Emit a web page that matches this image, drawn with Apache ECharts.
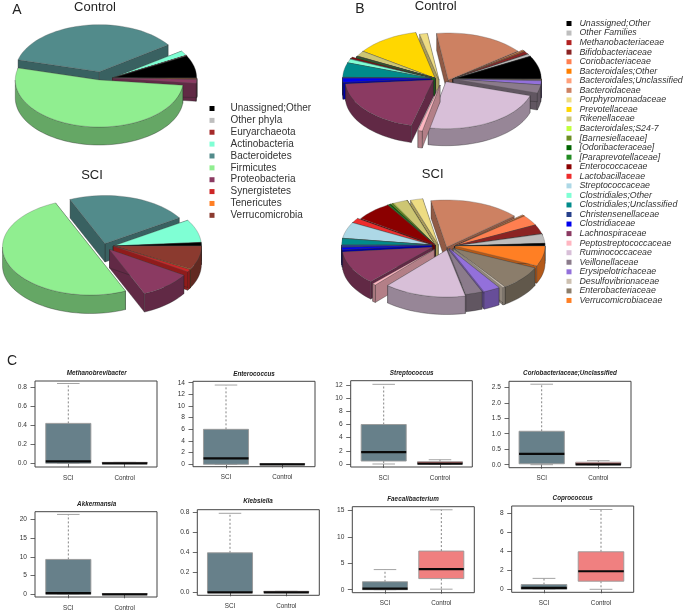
<!DOCTYPE html>
<html><head><meta charset="utf-8">
<style>html,body{margin:0;padding:0;background:#fff}#c{width:685px;height:612px}</style>
<script src="https://cdn.jsdelivr.net/npm/echarts@6/dist/echarts.min.js"></script>
</head><body><div id="c"></div>
<script>
// ---------- data ----------
const phylaNames = ['Unassigned;Other','Other phyla','Euryarchaeota','Actinobacteria','Bacteroidetes','Firmicutes','Proteobacteria','Synergistetes','Tenericutes','Verrucomicrobia'];
const phylaControl = [7.8,0.1,0.1,1.7,36.2,52.3,1.3,0,0.2,0.3];
const phylaSCI = [1.2,0,0,7.8,22.5,50,9.5,0.8,0.2,8.0];
const familyNames = ['Unassigned;Other','Other Families','Methanobacteriaceae','Bifidobacteriaceae','Coriobacteriaceae','Bacteroidales;Other','Bacteroidales;Unclassified','Bacteroidaceae','Porphyromonadaceae','Prevotellaceae','Rikenellaceae','Bacteroidales;S24-7','[Barnesiellaceae]','[Odoribacteraceae]','[Paraprevotellaceae]','Enterococcaceae','Lactobacillaceae','Streptococcaceae','Clostridiales;Other','Clostridiales;Unclassified','Christensenellaceae','Clostridiaceae','Lachnospiraceae','Peptostreptococcaceae','Ruminococcaceae','Veillonellaceae','Erysipelotrichaceae','Desulfovibrionaceae','Enterobacteriaceae','Verrucomicrobiaceae'];
const familyControl = [8.0,0.8,0.1,0.9,0.2,0.2,0.3,16.5,1.4,11.7,1.9,0.1,0.1,0.1,0.1,0.55,0.1,0.1,1.3,5.0,0.3,1.4,19.5,0.8,23.3,2.8,1.4,0.2,0.2,0.2];
const familySCI = [0.9,3.2,0.1,3.2,3.6,0.2,0.3,16.3,2.2,0.05,2.6,0.2,0.4,0.3,0.3,6.6,1.7,5.6,0.1,2.2,0.8,0.8,11.4,0.6,14.7,3.0,3.0,0.4,8.4,6.9];
const panelNames = ['Methanobrevibacter','Enterococcus','Streptococcus','Coriobacteriaceae;Unclassified','Akkermansia','Klebsiella','Faecalibacterium','Coprococcus'];
const groupLabels = ['SCI','Control'];
// [min, Q1, median, Q3, max] for SCI and Control
const boxStats = [
 [[0,0,0.02,0.42,0.84],[0,0,0,0.01,0.01]],
 [[0,0,1,6,13.6],[0,0,0,0.1,0.1]],
 [[0,0.45,1.8,6,12.1],[0,0,0.05,0.35,0.65]],
 [[0,0.03,0.35,1.08,2.6],[0,0,0.01,0.08,0.13]],
 [[0,0,0.3,9.3,21.3],[0,0,0,0.2,0.2]],
 [[0,0,0,0.395,0.79],[0,0,0,0.01,0.01]],
 [[0,0,0.2,1.5,3.8],[0.1,2.1,3.9,7.3,15.1]],
 [[0,0,0.15,0.5,1.15],[0,0.85,1.9,3.95,8.4]]
];
const yTicks = [
 [0,0.2,0.4,0.6,0.8],[0,2,4,6,8,10,12,14],[0,2,4,6,8,10,12],[0,0.5,1,1.5,2,2.5],
 [0,5,10,15,20],[0,0.2,0.4,0.6,0.8],[0,5,10,15],[0,2,4,6,8]
];
const yDecimals = [1,0,0,1,0,1,0,0];

// ---------- styles ----------
const phylaColors = ['#000000','#BEBEBE','#A52A2A','#7FFFD4','#528B8B','#90EE90','#8B3A62','#CD2626','#FF7F24','#8B3A2F'];
const familyColors = ['#000000','#BEBEBE','#B22222','#8B2323','#FF7F50','#FF7F00','#FFA07A','#CD8162','#EEDC82','#FFD700','#CDC673','#C0FF3E','#6B8E23','#006400','#228B22','#8B0000','#EE2C2C','#ADD8E6','#7FFFD4','#008B8B','#27408B','#0000EE','#8B3A62','#FFB6C1','#D8BFD8','#8B7B8B','#9370DB','#CDC0B0','#8B7D6B','#FF7F24'];

// ---------- layout ----------
const a1 = {f:[99.3,80], b:[99.3,71.7], r:[112.7,78]};
const a2 = {f:[90.5,247], b:[105,243.5], r:[113.4,246], p:[109.5,249.5]};
const b1 = {r:[453.3,79], c:[448.3,80], o:[439,80], v:[435,78.3], t:[430.7,78.3], l:[433.3,80], q:[440,85], u:[446,81.7]};
const b2 = {r:[455,246], c:[446.7,247], o:[438.3,245], v:[435,245], t:[431.7,245], l:[432.3,247.3], q:[434.3,249.5], u:[446.7,250], w:[447.3,248.3], e:[449.3,248.3], d:[453.3,248.3]};
const pies = [
 {values:phylaControl, colors:phylaColors, rx:84, ry:47, depth:18,
  apex:[a1.r,a1.r,a1.r,a1.r,a1.b,a1.f,a1.r,a1.r,a1.r,a1.r]},
 {values:phylaSCI, colors:phylaColors, rx:88, ry:48, depth:18.5,
  apex:[a2.r,a2.r,a2.r,a2.r,a2.b,a2.f,a2.p,a2.r,a2.r,a2.r]},
 {values:familyControl, colors:familyColors, rx:88, ry:47, depth:17,
  apex:[b1.r,b1.r,b1.r,b1.r,b1.r,b1.r,b1.r,b1.c,b1.o,b1.v,b1.v,b1.v,b1.v,b1.v,b1.v,b1.t,b1.t,b1.t,b1.t,b1.t,b1.t,b1.t,b1.l,b1.q,b1.u,b1.r,b1.r,b1.r,b1.r,b1.r]},
 {values:familySCI, colors:familyColors, rx:90, ry:47, depth:17.5,
  apex:[b2.r,b2.r,b2.r,b2.r,b2.r,b2.r,b2.r,b2.c,b2.o,b2.v,b2.v,b2.v,b2.v,b2.v,b2.v,b2.v,b2.t,b2.t,b2.t,b2.t,b2.t,b2.t,b2.l,b2.q,b2.u,b2.w,b2.e,b2.d,b2.d,b2.r]}
];
// frame left,right,top,bottom; y pixel of 0; y pixel of top tick; x pixel of both groups
const panels = [
 {L:35,R:157,T:381,B:467,y0:463.3,yt:387.3,c1:68.3,c2:124.7,tx:96.7,ty:370},
 {L:193,R:315,T:381.3,B:466.7,y0:464.3,yt:382.7,c1:226,c2:282.3,tx:254,ty:371},
 {L:350.7,R:472.3,T:380.7,B:467,y0:464,yt:385,c1:383.7,c2:440,tx:411.7,ty:370},
 {L:509,R:631,T:381.3,B:467.7,y0:464.7,yt:387.3,c1:541.7,c2:598.3,tx:570,ty:370.5},
 {L:35,R:157,T:511.7,B:597,y0:594.3,yt:519.3,c1:68.3,c2:124.7,tx:96.7,ty:501},
 {L:197.3,R:319.3,T:509.7,B:595.3,y0:592.3,yt:512.3,c1:230,c2:286.3,tx:258,ty:498.5},
 {L:352.3,R:474.3,T:506.7,B:592.7,y0:589.7,yt:510.3,c1:385,c2:441.3,tx:413,ty:496},
 {L:511.7,R:633.7,T:506,B:592.3,y0:589.3,yt:513.3,c1:544,c2:601,tx:572.7,ty:495.5}
];
const FONT = '"Liberation Sans", Arial, sans-serif';

// ---------- pie helpers ----------
function shade(hex, k){
  const n = parseInt(hex.slice(1),16);
  return 'rgb('+[n>>16,(n>>8)&255,n&255].map(c=>Math.round(c*k)).join(',')+')';
}
function pieSeries(pie){
  const total = pie.values.reduce((s,v)=>s+v,0);
  let acc = 0;
  const slices = pie.values.map((v,i)=>{
    const a0 = acc/total*360; acc += v; const a1 = acc/total*360;
    return {i,v,a0,a1,mid:(a0+a1)/2};
  }).filter(s=>s.v>0);
  // painted from the back of the pie to the front
  slices.sort((p,q)=>Math.sin(q.mid*Math.PI/180)-Math.sin(p.mid*Math.PI/180));
  const pt = (ap,deg,dz)=>[ap[0]+pie.rx*Math.cos(deg*Math.PI/180), ap[1]-pie.ry*Math.sin(deg*Math.PI/180)+dz];
  const arc = (ap,a,b,dz)=>{const out=[];const n=Math.max(2,Math.ceil((b-a)/3));for(let k=0;k<=n;k++)out.push(pt(ap,a+(b-a)*k/n,dz));return out;};
  return {
    type:'custom', coordinateSystem:'none', silent:true, animation:false,
    data: slices.map(s=>[s.v,s.i]),
    renderItem(params){
      const s = slices[params.dataIndex];
      const ap = pie.apex[s.i], col = pie.colors[s.i], dark = shade(col,0.7), d = pie.depth;
      const kids = [];
      const side = {fill:dark, stroke:'#222', lineWidth:0.35};
      [s.a0,s.a1].forEach(a=>{
        kids.push({type:'polygon',shape:{points:[ap,pt(ap,a,0),pt(ap,a,d),[ap[0],ap[1]+d]]},style:side});
      });
      const lo = Math.max(s.a0,180), hi = Math.min(s.a1,360);
      if(hi>lo){
        const top = arc(ap,lo,hi,0), bot = arc(ap,lo,hi,d).reverse();
        kids.push({type:'polygon',shape:{points:top.concat(bot)},style:side});
      }
      kids.push({type:'polygon',shape:{points:[ap].concat(arc(ap,s.a0,s.a1,0))},
        style:{fill:col,stroke:'#555',lineWidth:0.3}});
      return {type:'group',children:kids};
    }
  };
}
function legendProvider(names,colors){
  return {type:'pie',radius:[0,0],center:[-50,-50],silent:true,animation:false,label:{show:false},labelLine:{show:false},
    data:names.map((n,i)=>({name:n,value:1,itemStyle:{color:colors[i]}}))};
}

// ---------- box plots ----------
function boxSeries(k){
  return {
    type:'custom', xAxisIndex:k, yAxisIndex:k, silent:true, animation:false,
    data: boxStats[k].map((b,i)=>[i+1].concat(b)),
    encode:{x:0,y:[1,2,3,4,5]},
    renderItem(params,api){
      const x=api.value(0), mn=api.value(1), q1=api.value(2), md=api.value(3), q3=api.value(4), mx=api.value(5);
      const c=(vx,vy)=>api.coord([vx,vy]);
      const hw=0.4, cap=0.2;
      const fill = params.dataIndex===0 ? '#67808A' : '#F08080';
      const [bl,bt]=c(x-hw,q3), [br,bb]=c(x+hw,q1);
      const dash={stroke:'#777',lineWidth:0.9,lineDash:[2,2]}, capS={stroke:'#999',lineWidth:0.9};
      const line=(p,q,style)=>({type:'line',shape:{x1:p[0],y1:p[1],x2:q[0],y2:q[1]},style});
      return {type:'group',children:[
        line(c(x,q3),c(x,mx),dash), line(c(x,q1),c(x,mn),dash),
        line(c(x-cap,mx),c(x+cap,mx),capS), line(c(x-cap,mn),c(x+cap,mn),capS),
        {type:'rect',shape:{x:bl,y:bt,width:br-bl,height:bb-bt},style:{fill,stroke:'#999',lineWidth:0.9}},
        line(c(x-hw,md),c(x+hw,md),{stroke:'#0a0a0a',lineWidth:2.2})
      ]};
    }
  };
}
const grids=[], xAxes=[], yAxes=[], boxes=[];
panels.forEach((p,k)=>{
  grids.push({left:p.L,top:p.T,width:p.R-p.L,height:p.B-p.T,show:true,borderColor:'#444',borderWidth:1,backgroundColor:'transparent',containLabel:false});
  const dx=p.c2-p.c1, tks=yTicks[k], scale=(p.y0-p.yt)/tks[tks.length-1];
  xAxes.push({type:'value',gridIndex:k,min:1-(p.c1-p.L)/dx,max:2+(p.R-p.c2)/dx,splitLine:{show:false},
    axisLine:{show:false},
    axisTick:{show:true,customValues:[1,2],length:4,lineStyle:{color:'#444',width:0.8}},
    axisLabel:{customValues:[1,2],formatter:v=>groupLabels[Math.round(v)-1],fontSize:6.3,color:'#333',fontFamily:FONT,margin:8}});
  yAxes.push({type:'value',gridIndex:k,min:(p.y0-p.B)/scale,max:(p.y0-p.T)/scale,splitLine:{show:false},
    axisLine:{show:false},
    axisTick:{show:true,customValues:tks,length:4.5,lineStyle:{color:'#444',width:0.8}},
    axisLabel:{customValues:tks,formatter:v=>(+v).toFixed(yDecimals[k]),fontSize:6.6,color:'#333',fontFamily:FONT,margin:8}});
  boxes.push(boxSeries(k));
});

// ---------- titles ----------
const t=(text,x,y,size,extra)=>Object.assign({text,left:x,top:y,textAlign:'center',padding:0,
  textStyle:Object.assign({fontSize:size,fontWeight:'normal',color:'#222',fontFamily:FONT},extra||{})});
const titles=[
 t('Control',95,1,13), t('SCI',92,169,13), t('Control',435.7,0,13), t('SCI',432.7,168,13),
 t('A',17,3,14), t('B',360,2,14), t('C',12,354,14)
].concat(panels.map((p,k)=>t(panelNames[k],p.tx,p.ty,6.3,{fontWeight:'bold',fontStyle:'italic'})));

echarts.init(document.getElementById('c')).setOption({
  animation:false, backgroundColor:'#fff',
  title:titles, grid:grids, xAxis:xAxes, yAxis:yAxes,
  legend:[
   {data:phylaNames,orient:'vertical',left:209.5,top:103,icon:'rect',itemWidth:5,itemHeight:5,itemGap:0.87,selectedMode:false,padding:0,
    textStyle:{fontSize:10,lineHeight:11,color:'#333',fontFamily:FONT,padding:[0,0,0,11]}},
   {data:familyNames,orient:'vertical',left:566.5,top:19,icon:'rect',itemWidth:5,itemHeight:5,itemGap:0.55,selectedMode:false,padding:0,
    textStyle:{fontSize:8.8,lineHeight:9,fontStyle:'italic',color:'#333',fontFamily:FONT,padding:[0,0,0,3]}}
  ],
  series:[...pies.map(pieSeries),...boxes,legendProvider(phylaNames,phylaColors),legendProvider(familyNames,familyColors)]
});
</script></body></html>
